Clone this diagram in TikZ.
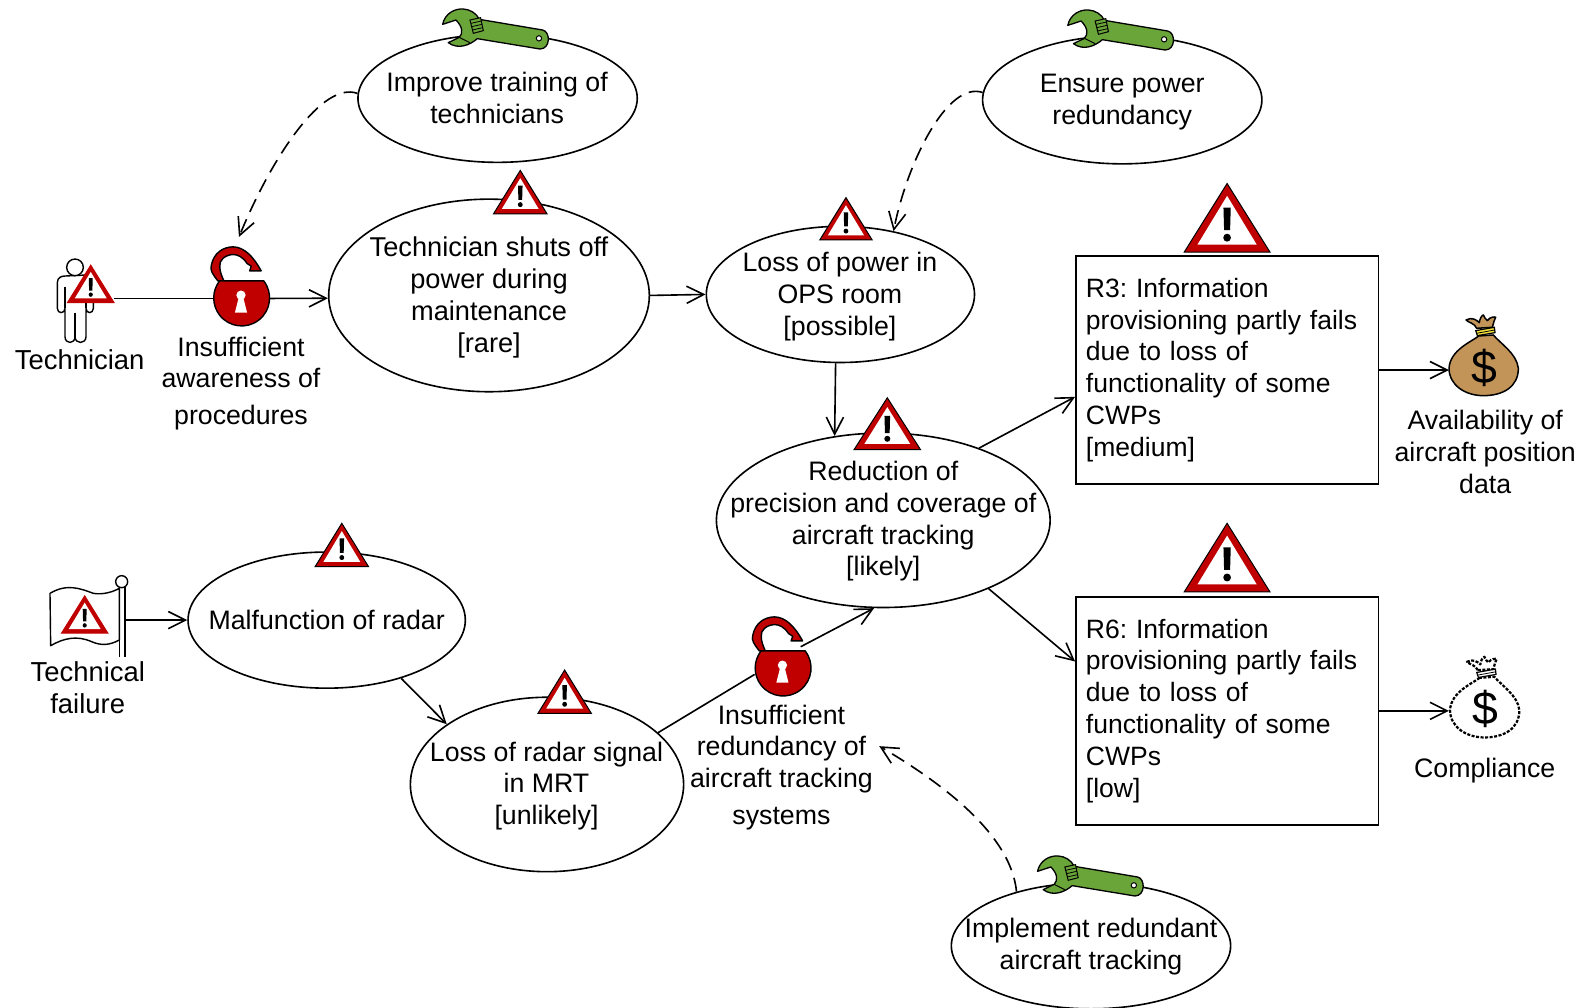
\documentclass[tikz,border=0pt]{standalone}
\usepackage{fontspec}
\setmainfont{Liberation Sans}
\usetikzlibrary{arrows.meta,shapes.geometric}
\definecolor{warnred}{HTML}{C00000}
\definecolor{lockred}{HTML}{C00000}
\definecolor{wrenchgreen}{HTML}{6AA539}
\definecolor{bagbrown}{HTML}{C39458}
\definecolor{bagyellow}{HTML}{F5E23C}
\tikzset{
  x=1pt,y=-1pt,
  every node/.style={font=\fontsize{26.5}{31.5}\selectfont\frenchspacing},
  line/.style={line width=1.6pt,black},
  arr/.style={line,-{Straight Barb[length=17pt,width=17pt,line width=1.6pt]}},
  dasharr/.style={arr,dash pattern=on 14pt off 8pt},
  goal/.style={ellipse,draw=black,line width=1.6pt,fill=white,inner sep=0pt},
  txt/.style={align=center,inner sep=0pt},
  bigtxt/.style={txt,font=\fontsize{27.2}{31.5}\selectfont\frenchspacing},
  box/.style={rectangle,draw=black,line width=1.6pt,fill=white,minimum width=300pt,minimum height=226pt,
     text width=280pt,align=left,inner sep=10pt,font=\fontsize{26.3}{31.6}\selectfont\frenchspacing},
  port/.style={circle,inner sep=0pt,minimum size=56pt},
}
% cx, apex y, half width, height, outline colour
\newcommand\warnsign[5]{%
\begin{scope}[shift={(#1,#2)},xscale=#3,yscale=#4]
 \fill[warnred,draw=#5,line width=1pt,line join=miter] (0,0)--(-1,1)--(1,1)--cycle;
 \fill[white] (0,.18)--(-.69,.89)--(.69,.89)--cycle;
 \fill[black] (-.085,.35)--(.085,.35)--(.07,.68)--(-.07,.68)--cycle;
 \fill[black] (0,.79) ellipse[x radius=.09,y radius=.058];
\end{scope}}
\newcommand\lockicon[2]{%
\begin{scope}[shift={(#1,#2)}]
 \filldraw[fill=lockred,draw=black,line width=1.4pt,line join=round]
   (-23,-17.5) .. controls (-28,-24) and (-31,-28) .. (-29.4,-33)
   .. controls (-27,-45) and (-18,-51) .. (-8,-51.2)
   .. controls (3,-51) and (12,-42) .. (20,-27.4)
   -- (8.6,-27.4) -- (10.2,-32) -- (6,-34.7)
   .. controls (2,-41) and (-3,-43.6) .. (-8,-43.6)
   .. controls (-16,-43) and (-22,-38) .. (-21,-31.4)
   .. controls (-21,-27) and (-19,-22) .. (-17,-17.5) -- cycle;
 \filldraw[fill=lockred,draw=black,line width=1.4pt]
   (-22.5,-17.5) -- (22.5,-17.5) arc[start angle=-38,end angle=218,radius=27.7,x radius=27.7,y radius=27.7] -- cycle;
 \fill[white] (0,-3.3) circle[radius=4.6];
 \fill[white] (-2.5,0) -- (2.5,0) -- (6,14) -- (-6,14) -- cycle;
\end{scope}}
\newcommand\wrenchicon[2]{%
\begin{scope}[shift={(#1,#2)},scale=.3306]
 \filldraw[fill=wrenchgreen,draw=black,line width=1.3pt,line join=round]
   (68,73) .. controls (75,40) and (105,25) .. (130,27)
   .. controls (150,28) and (170,40) .. (178,58)
   -- (368,90) .. controls (392,95) and (392,147) .. (360,147)
   -- (172,116) .. controls (150,135) and (115,150) .. (85,128)
   -- (118,112) .. controls (130,100) and (128,80) .. (108,60) -- cycle;
 \draw[line width=1pt] (120,113) -- (150,128);
 \filldraw[fill=wrenchgreen,draw=black,line width=1pt] (150,60)--(182,53)--(190,92)--(160,100)--cycle;
 \draw[line width=.8pt] (153,70)--(184,63) (155,80)--(186,73) (157,90)--(188,83);
 \filldraw[fill=white,draw=black,line width=1pt] (357,115) circle[radius=8];
\end{scope}}
\newcommand\bagicon[5]{%
\begin{scope}[shift={(#1,#2)},scale=.3306]
 \filldraw[fill=#3,draw=black,#5,line join=round]
   (236,108) .. controls (215,125) and (150,150) .. (147,205)
   .. controls (147,255) and (195,287) .. (250,287)
   .. controls (310,287) and (355,260) .. (355,205)
   .. controls (350,160) and (300,130) .. (280,105) -- cycle;
 \filldraw[fill=#3,draw=black,#5,line join=round]
   (230,85) .. controls (225,70) and (205,68) .. (198,60)
   .. controls (215,50) and (230,60) .. (238,68)
   .. controls (238,60) and (245,45) .. (250,45)
   .. controls (255,50) and (255,60) .. (262,62)
   .. controls (270,50) and (285,50) .. (287,52)
   .. controls (280,65) and (280,75) .. (277,82) -- cycle;
 \filldraw[fill=#4,draw=black,line width=1.2pt] (227,92)--(283,82)--(285,98)--(232,107)--cycle;
 \draw[black,line width=.8pt] (230,100)--(284,90);
\end{scope}}
\begin{document}
\begin{tikzpicture}
\useasboundingbox (0,0) rectangle (1568,999.7);
% ---- nodes
\node[goal,minimum width=277pt,minimum height=127pt] (impr) at (493.5,97.5) {};
\node[txt] (imprt) at (493,97.5) {Improve training of\\technicians};
\node[goal,minimum width=277pt,minimum height=127pt] (ens) at (1113,99) {};
\node[txt] (enst) at (1113,101) {Ensure power\\redundancy};
\node[goal,minimum width=318pt,minimum height=191pt] (shut) at (485,293) {};
\node[txt,font=\fontsize{27}{31.5}\selectfont] (shutt) at (485,295) {Technician shuts off\\power during\\maintenance\\{[rare]}};
\node[goal,minimum width=266pt,minimum height=135pt] (pow) at (833.5,292) {};
\node[txt] (powt) at (833,294) {Loss of power in\\OPS room\\{[possible]}};
\node[goal,minimum width=331pt,minimum height=173pt] (red) at (876,516) {};
\node[txt] (redt) at (876,517) {Reduction of\\precision and coverage of\\aircraft tracking\\{[likely]}};
\node[goal,minimum width=275pt,minimum height=135pt] (malf) at (324,615) {};
\node[txt] (malft) at (324,615) {Malfunction of radar};
\node[goal,minimum width=271pt,minimum height=173pt] (rad) at (542.5,778) {};
\node[txt] (radt) at (542,779.5) {Loss of radar signal\\in MRT\\{[unlikely]}};
\node[goal,minimum width=277pt,minimum height=125pt] (impl) at (1082,938) {};
\node[txt] (implt) at (1082,939) {Implement redundant\\aircraft tracking};
\node[box] (r3) at (1217,367) {R3: Information\\provisioning partly fails\\due to loss of\\functionality of some\\CWPs\\{[medium]}};
\node[box] (r6) at (1217,705) {R6: Information\\provisioning partly fails\\due to loss of\\functionality of some\\CWPs\\{[low]}};
\node[port] (lockA) at (239,296) {};
\node[port] (lockB) at (776,663) {};
\node[bigtxt] (techl) at (79,357) {Technician};
\node[txt] (lockAl) at (239,380) {Insufficient\\awareness of\\[4.5pt]procedures};
\node[bigtxt] (flagl) at (87,682) {Technical\\failure};
\node[txt] (lockBl) at (775,761) {Insufficient\\redundancy of\\aircraft tracking\\[5pt]systems};
\node[txt] (availl) at (1473,448) {Availability of\\aircraft position\\data};
\node[txt] (compl) at (1472.5,764) {Compliance};
\coordinate (techc) at (113,296);
\coordinate (flagc) at (124,615);
\coordinate (bagA) at (1437,367);
\coordinate (bagB) at (1437,705);
\coordinate (lockAtop) at (237,235);
\coordinate (lockBtxt) at (872,740);
% ---- connectors
\draw[line] (techc) -- (lockA.180);
\draw[arr] (lockA.0) -- (shut.181);
\draw[arr] (shut.0) -- (pow.180);
\draw[arr] (pow.266) -- (red.120);
\draw[arr] (red.37) -- (r3.190);
\draw[arr] (red.-33) -- (r6.162);
\draw[arr] (r3.east) -- (bagA);
\draw[arr] (r6.east) -- (bagB);
\draw[arr] (flagc) -- (malf.180);
\draw[arr] (malf.-38) -- (rad.149);
\draw[line] (rad.25.5) -- (lockB.192.5);
\draw[arr] (lockB.50) -- (red.-96.6);
\draw[dasharr] (impr.178) .. controls (320,80) and (270,155) .. (lockAtop);
\draw[dasharr] (ens.177.5) .. controls (940,80) and (900,160) .. (pow.50);
\draw[dasharr] (impl.144) .. controls (1003,830) and (940,780) .. (lockBtxt);
% ---- icons
\lockicon{239}{296}
\lockicon{776}{663}
\wrenchicon{416.5}{0}
\wrenchicon{1036.5}{1}
\wrenchicon{1006.5}{840}
\warnsign{516}{169}{26.5}{43}{black}
\warnsign{839}{196}{26}{42}{black}
\warnsign{1217}{182}{42.5}{68}{black}
\warnsign{1217}{519}{42.5}{68}{black}
\warnsign{880}{394.5}{33}{51.5}{black}
\warnsign{339}{519}{26.5}{43}{black}
\warnsign{560}{664.5}{26.5}{43}{black}
% person
\begin{scope}[shift={(0,158.7)},scale=.3306]
 \draw[line width=1.4pt,fill=white,line join=round]
   (172,368) .. controls (172,352) and (185,348) .. (195,348) -- (258,345) -- (280,360)
   -- (280,445) .. controls (280,462) and (258,462) .. (258,445)
   -- (258,530) .. controls (258,553) and (225,553) .. (225,530)
   .. controls (225,553) and (195,553) .. (195,530)
   -- (195,445) .. controls (195,462) and (172,462) .. (172,445) -- cycle;
 \draw[line width=1.4pt] (195,380) -- (195,445) (225,458) -- (225,530) (258,420) -- (258,445);
 \draw[line width=1.4pt,fill=white] (225,322) circle[radius=25];
\end{scope}
\warnsign{90}{263}{23}{37}{warnred}
% flag
\begin{scope}[shift={(29.75,555.4)},scale=.3306]
 \draw[line width=1.4pt,fill=white,line join=round]
   (60,100) .. controls (110,70) and (150,85) .. (190,100)
   .. controls (220,105) and (250,95) .. (268,85) -- (268,240)
   .. controls (240,255) and (215,258) .. (185,245)
   .. controls (140,225) and (100,235) .. (62,257) -- cycle;
 \draw[line width=1.4pt] (268,80) -- (268,290) (285,80) -- (285,290);
 \draw[line width=1.4pt,fill=white] (275,65) circle[radius=18];
\end{scope}
\warnsign{84}{591}{23}{37}{warnred}
% bags
\bagicon{1388.5}{297.5}{bagbrown}{bagyellow}{line width=1.5pt}
\node[inner sep=0pt,font=\fontsize{46}{46}\selectfont] (dolA) at (1472,365) {\$};
\bagicon{1389.5}{636.5}{white}{white}{line width=2.2pt,dash pattern=on 3pt off 1.5pt}
\node[inner sep=0pt,font=\fontsize{46}{46}\selectfont] (dolB) at (1473,703) {\$};
\end{tikzpicture}
\end{document}
